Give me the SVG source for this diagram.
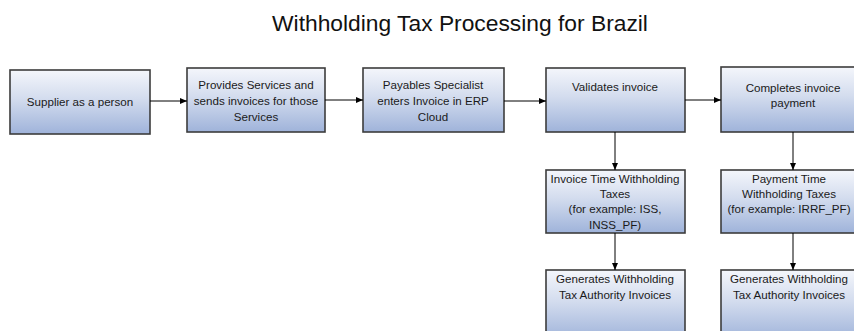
<svg xmlns="http://www.w3.org/2000/svg" width="854" height="331" viewBox="0 0 854 331">
<defs>
<linearGradient id="g" x1="0" y1="0" x2="0" y2="1">
<stop offset="0" stop-color="#f4f6fb"/>
<stop offset="0.45" stop-color="#d3dcee"/>
<stop offset="1" stop-color="#9fb3da"/>
</linearGradient>
<marker id="ah" markerWidth="7" markerHeight="6" refX="7" refY="3" orient="auto" markerUnits="userSpaceOnUse">
<path d="M0,0 L7,3 L0,6 Z" fill="#000"/>
</marker>
</defs>
<style>
.box{fill:url(#g);stroke:#3c3c3c;stroke-width:1.6}
.t{font-family:"Liberation Sans",Arial,sans-serif;font-size:11.6px;fill:#1a1a1a;text-anchor:middle}
.title{font-family:"Liberation Sans",Arial,sans-serif;font-size:22.8px;fill:#111;text-anchor:middle}
.c{stroke:#000;stroke-width:1;fill:none;marker-end:url(#ah)}
</style>
<rect width="854" height="331" fill="#fff"/>
<text class="title" x="460" y="31">Withholding Tax Processing for Brazil</text>

<g id="n1"><rect class="box" x="10" y="70" width="140" height="64"/>
<text class="t" x="80" y="106">Supplier as a person</text></g>

<g id="n2"><rect class="box" x="187" y="68" width="138" height="64"/>
<text class="t" x="256" y="89">Provides Services and</text>
<text class="t" x="256" y="105">sends invoices for those</text>
<text class="t" x="256" y="121">Services</text></g>

<g id="n3"><rect class="box" x="363" y="68" width="141" height="64"/>
<text class="t" x="433" y="89">Payables Specialist</text>
<text class="t" x="433" y="105">enters Invoice in ERP</text>
<text class="t" x="433" y="121">Cloud</text></g>

<g id="n4"><rect class="box" x="546" y="68" width="139" height="64"/>
<text class="t" x="615" y="91">Validates invoice</text></g>

<g id="n5"><rect class="box" x="721" y="67" width="140" height="65"/>
<text class="t" x="793" y="92">Completes invoice</text>
<text class="t" x="793" y="107">payment</text></g>

<g id="n6"><rect class="box" x="546" y="170" width="139" height="63"/>
<text class="t" x="615" y="183">Invoice Time Withholding</text>
<text class="t" x="615" y="198">Taxes</text>
<text class="t" x="615" y="213">(for example: ISS,</text>
<text class="t" x="615" y="229">INSS_PF)</text></g>

<g id="n7"><rect class="box" x="721" y="170" width="140" height="63"/>
<text class="t" x="789" y="183">Payment Time</text>
<text class="t" x="789" y="198">Withholding Taxes</text>
<text class="t" x="789" y="213">(for example: IRRF_PF)</text></g>

<g id="n8"><rect class="box" x="546" y="270" width="139" height="70"/>
<text class="t" x="615" y="283">Generates Withholding</text>
<text class="t" x="615" y="299">Tax Authority Invoices</text></g>

<g id="n9"><rect class="box" x="721" y="270" width="140" height="70"/>
<text class="t" x="789" y="283">Generates Withholding</text>
<text class="t" x="789" y="299">Tax Authority Invoices</text></g>

<g id="connectors">
<line class="c" x1="150" y1="101" x2="187" y2="101"/>
<line class="c" x1="325" y1="100" x2="363" y2="100"/>
<line class="c" x1="504" y1="101" x2="546" y2="101"/>
<line class="c" x1="685" y1="100" x2="721" y2="100"/>
<line class="c" x1="615" y1="132" x2="615" y2="170"/>
<line class="c" x1="793" y1="132" x2="793" y2="170"/>
<line class="c" x1="615" y1="233" x2="615" y2="270"/>
<line class="c" x1="793" y1="233" x2="793" y2="270"/>
</g>
</svg>
